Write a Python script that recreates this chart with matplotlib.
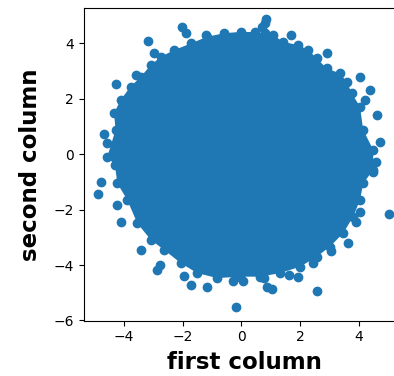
import matplotlib
matplotlib.use("Agg")
import matplotlib.pyplot as plt

# Dense core region of the scatter (outline of the solid blob, data units)
core_x = [-0.02, 0.47, 0.81, 1.09, 1.43, 1.94, 2.28, 2.57, 2.91, 3.36, 3.59, 3.76,
          4.04, 4.15, 4.49, 4.49, 4.15, 4.04, 3.81, 3.47, 3.02, 2.57, 2.00, 1.32,
          0.64, -0.04, -0.82, -1.50, -2.06, -2.63, -3.08, -3.54, -3.88, -4.22,
          -4.30, -4.56, -4.28, -4.33, -4.11, -3.77, -3.42, -3.08, -2.74, -2.29,
          -1.72, -1.17, -0.59]
core_y = [4.42, 4.41, 4.37, 4.30, 4.06, 3.94, 3.77, 3.46, 3.10, 2.92, 2.62, 2.20,
          1.72, 0.88, 0.16, -0.57, -1.05, -1.65, -2.25, -2.85, -3.33, -3.70, -4.06,
          -4.29, -4.42, -4.42, -4.47, -4.29, -3.93, -3.45, -3.09, -2.49, -1.65,
          -1.05, -0.39, -0.09, 0.88, 1.48, 1.96, 2.44, 2.80, 3.22, 3.52, 3.76,
          4.00, 4.24, 4.37]

# Individual points around the edge
point_x = [-2.03, -1.89, -3.17, -2.97, -4.26, -3.59, -4.67, -4.58, -1.21, 0.81,
           0.84, 0.70, 1.68, 2.93, 4.04, 4.38, 4.21, 4.61, 4.72, 4.59, 4.49,
           -4.79, -4.88, -4.22, -4.11, -3.40, -2.88, -2.77, -1.95, -1.70, -1.16,
           -0.28, -0.18, 5.04, 4.04, 3.90, 3.62, 3.04, 2.45, 1.92, 1.63, 1.03,
           0.89, 2.57, 0.77, 0.07]
point_y = [4.60, 4.39, 4.09, 3.67, 2.54, 2.86, 0.73, 0.40, 4.30, 4.73,
           4.88, 4.59, 4.30, 3.64, 2.80, 2.32, 1.96, 1.42, 0.45, -0.27, -0.63,
           -0.99, -1.44, -1.83, -2.43, -3.45, -4.17, -3.99, -4.39, -4.72, -4.81,
           -4.57, -5.50, -2.16, -2.07, -2.43, -3.21, -3.51, -3.91, -4.42, -4.35,
           -4.87, -4.80, -4.92, -4.47, -4.56]

x_ticks = [-4, -2, 0, 2, 4]
y_ticks = [-6, -4, -2, 0, 2, 4]

fig = plt.figure(figsize=(3.94, 3.76), dpi=100)
ax = fig.add_axes([0.212, 0.147, 0.818, 0.8316])

color = "#1f77b4"
ax.fill(core_x, core_y, color=color, linewidth=0)
ax.scatter(core_x, core_y, s=36, color=color)
ax.scatter(point_x, point_y, s=36, color=color)

ax.set_xlim(-5.37, 5.6)
ax.set_ylim(-6.01, 5.28)
ax.set_xticks(x_ticks)
ax.set_yticks(y_ticks)
ax.set_xticklabels([("\u2212" + str(-t)) if t < 0 else str(t) for t in x_ticks])
ax.set_yticklabels([("\u2212" + str(-t)) if t < 0 else str(t) for t in y_ticks])
ax.tick_params(labelsize=10)

ax.set_xlabel("first column", fontsize=16.5, fontweight="bold", labelpad=5)
ax.set_ylabel("second column", fontsize=16.5, fontweight="bold", labelpad=8)

fig.savefig("out.png", dpi=100)
